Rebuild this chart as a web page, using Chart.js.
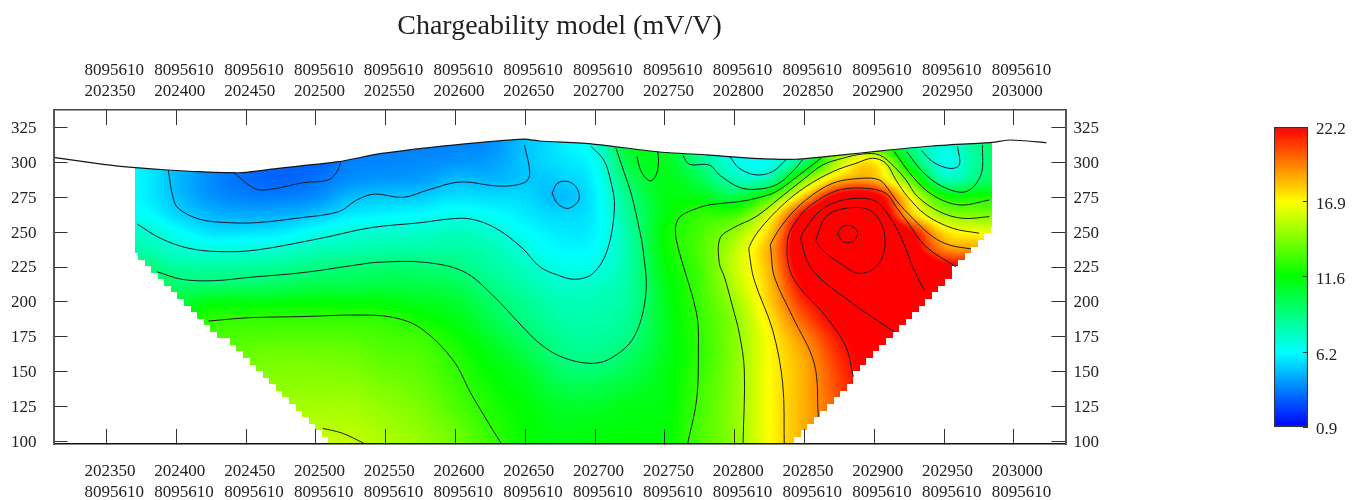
<!DOCTYPE html>
<html><head><meta charset="utf-8">
<script src="https://cdn.jsdelivr.net/npm/chart.js@4"></script>
<style>html,body{margin:0;padding:0;background:#fff}canvas{position:absolute;top:0}#main{left:0}#bar{left:1230px}</style>
</head><body>
<canvas id="main" width="1362" height="500"></canvas>
<canvas id="bar" width="132" height="500"></canvas>
<script>
const titleText = "Chargeability model (mV/V)";
const xTicks = [202350,202400,202450,202500,202550,202600,202650,202700,202750,202800,202850,202900,202950,203000];
const yTicks = [100,125,150,175,200,225,250,275,300,325];
const northing = "8095610";
const barTicks = [0.9,6.2,11.6,16.9,22.2];
const colorStops = [[0.9,0,0,255],[6.2,0,255,255],[11.6,0,255,0],[16.9,255,255,0],[22.2,255,0,0]];

const gridX = [202350,202375,202400,202425,202450,202475,202500,202525,202550,202575,202600,202625,202650,202675,202700,202725,202750,202775,202800,202825,202850,202875,202900,202925,202950,202975,203000];
const gridY = [325,312.5,300,287.5,275,262.5,250,237.5,225,212.5,200,187.5,175,162.5,150,137.5,125,112.5,100];
const gridColumns = [
[6,6,6,6,6,6.2,7,8,9.3,10.5,11.5,12,12.5,13,13.5,14,14.5,15,15.5],
[6,6,6,6,6,6.4,7.3,8,9.3,10.5,11.5,12,12.5,13,13.5,14,14.5,15,15.5],
[4.8,4.8,4.8,4.8,4.9,5.4,6.4,7.2,8.3,9.3,10.5,11.5,12,12.8,13.5,14,14.5,15,15.5],
[3.8,3.8,3.8,3.8,4,4.7,5.6,6.9,8.2,9.3,11.3,12.5,13,13.5,14,14.4,14.8,15.2,15.6],
[3.1,3.1,3.1,3.2,3.6,4.5,5.6,7,8.3,9.4,11.3,12.6,13.2,13.8,14.2,14.6,15,15.4,15.8],
[3,3,3,3,3.6,4.6,5.8,7.2,8.5,9.6,11.4,12.6,13.3,13.9,14.3,14.6,15,15.3,15.7],
[3,3,3,3.3,3.9,5,6.5,7.7,8.9,10,11.5,12.6,13.3,13.9,14.3,14.6,15,15.3,15.6],
[3.5,3.5,3.6,3.9,4.8,5.8,7,7.9,9.1,10,11.5,12.6,13.3,13.8,14.2,14.6,15,15.3,15.7],
[3.6,3.6,3.7,4.1,5.1,6,7.2,8.1,9.3,10.2,11.4,12.5,13,13.4,13.8,14.2,14.6,14.9,15.2],
[3.6,3.6,3.8,4.2,5.2,6.2,7.3,8.1,9.2,10.1,11,11.9,12.8,13.2,13.5,13.8,14.1,14.4,14.7],
[3.7,3.7,4,4.8,5.6,6.6,7.6,8.2,8.9,9.8,10.6,11.2,11.8,12.3,12.6,12.9,13.2,13.6,13.9],
[3.9,3.9,4.2,4.7,5.5,6.3,7.2,7.8,8.2,8.8,9.5,10,10.7,11.2,11.6,11.9,12.2,12.5,12.8],
[5,5,5,5,5.4,5.8,6.3,6.9,7.5,8,8.5,8.9,9.5,10.2,10.8,11.2,11.5,11.6,11.7],
[5.8,5.8,5.6,5.2,4.8,5.4,5.8,6.1,6.7,7.3,7.8,8.1,8.5,8.9,9.5,10.2,10.8,11.1,11.3],
[6.9,6.9,6.4,6.1,5.9,5.9,6,6.3,6.8,7.4,7.8,8,8.3,8.7,9.3,10.1,10.8,11.2,11.4],
[10.8,10.8,10.3,9.6,8.9,8.6,8.3,8.2,8.2,8.3,8.4,8.6,8.9,9.5,10,10.7,11.2,11.4,11.6],
[10.8,10.8,11,11.1,11.2,11.3,11.7,11.6,11.4,11.1,11,10.9,10.9,11,11.2,11.3,11.4,11.5,11.6],
[8.5,8.5,8.8,10,11.2,12.6,13,13.2,13,12.9,12.8,12.7,12.6,12.5,12.7,12.9,13,13.1,13.1],
[6.5,6.5,6.8,7.8,10.2,12.9,14.7,15.5,15.7,15.4,14.9,14.5,14.4,14.4,14.5,14.5,14.6,14.6,14.6],
[6.5,6.5,6.6,8.3,13,16.4,17.9,18.7,18.5,18.2,17.9,17.4,17,16.9,16.9,16.9,16.9,16.9,16.9],
[10,10,9.5,14.2,18.3,22.4,24.2,24.1,23.5,22.5,21.4,20.4,19.4,18.8,18.6,18.6,18.6,18.6,18.6],
[14,14,15.5,18.3,23,26.3,28,27,25.8,24.6,23.3,22.7,21.9,21.4,21,20.8,20.5,20.5,20.5],
[13,13,17.3,18.6,23,25,26.8,27,26,25.3,24.6,23.9,23,23,23,23,23,23,23],
[8.8,8.8,10.7,13.8,17.1,18.5,22.5,23.6,24.3,24.8,25,25,25,25,25,25,25,25,25],
[7,7,6.6,8,12.1,14.8,17.6,19.5,22.8,24,24,24,24,24,24,24,24,24,24],
[8.7,8.7,8.6,9.2,12,14.2,16.7,19,22,24,24,24,24,24,24,24,24,24,24],
[10.5,10.5,10.5,10.5,12.2,14.2,16.2,18,22,24,24,24,24,24,24,24,24,24,24]
];

const topography = [[202311.9,303.6],[202347.7,298.6],[202370.7,296.2],[202393.7,294.5],[202416.7,293.3],[202447.4,292.6],[202472.9,295.7],[202516.4,300.5],[202547,306.4],[202598.2,312.4],[202649.4,316.7],[202660.2,315.3],[202698.6,313.1],[202744.6,307.6],[202780.4,305.3],[202813.6,302.9],[202844.3,302.2],[202877.5,305.3],[202903.1,308.1],[202941.5,311.7],[202984.4,314.3],[202997.7,316],[203023.3,314.1]];
const lowerBoundary = [[202370.7,235.7],[202510,99],[202840,98],[202984.5,252]];

const contourA = [[202441,292.6],[202456.4,281.1],[202467.8,280.7],[202490.8,285.4],[202508.7,287.3],[202515.1,293.3],[202517.7,299.8]];
const contourB = [[202394.2,294.5],[202397.5,275.4],[202401.4,267],[202416.7,259.2],[202437.1,256.8],[202457.6,256.8],[202485.7,259.9],[202516.4,264.7],[202529.2,273],[202542,277.3],[202562.4,274.9],[202580.3,280.2],[202603.4,285.9],[202631.5,283],[202649.4,285.4],[202653.2,292.1],[202649.4,312.4]];
const ringB = [[202669.2,277.8],[202673,285],[202680.7,286.2],[202687,281.4],[202688.3,273],[202680.7,267],[202673,270.6],[202669.2,277.8]];
const contourC = [[202372,255.8],[202388.6,245.6],[202409,238.4],[202432,236],[202457.6,237.2],[202503.6,245.6],[202539.4,253.2],[202575.2,256.8],[202595.7,259.4],[202611,259.4],[202629,252.7],[202648,238.4],[202660.2,225.3],[202673,219.3],[202685.8,216.2],[202698.6,220.5],[202708.8,237.2],[202713.9,268.2],[202711.3,286.2],[202706.2,301.7],[202697.3,311.2]];
const contourD = [[202386,221.7],[202403.9,216.2],[202426.9,215.2],[202452.5,217.6],[202490.8,221],[202529.2,226.5],[202544.5,228.4],[202577.8,228.4],[202605.9,221.7],[202626.4,205],[202646.8,183.5],[202660.2,170.3],[202675.5,160.8],[202696,156],[202711.3,159.6],[202728,175.1],[202736.4,206.2],[202734.4,237.2],[202731.8,251.6],[202725.8,277.8],[202721,292.2],[202715,310]];
const contourE = [[202423,186.3],[202452.5,188.7],[202490.8,189.5],[202529.2,190.6],[202554.8,189],[202575.2,181.1],[202598.2,158.4],[202611,134.5],[202623.8,113],[202632.8,98.5]];
const contourF = [[202504.9,109.4],[202519,105.9],[202534.8,98.5]];
const island = [[202730,304.1],[202731.7,296.9],[202735.3,289.8],[202740.1,286.7],[202744.2,292.2],[202745.4,301.7],[202744.9,307.7]];
const contourJ = [[202762.8,305],[202767.5,298.6],[202781.9,298.1],[202789,291],[202803.3,282.1],[202815.3,280.7],[202829.6,283.8],[202841.5,293.4],[202848.7,302]];
const contourK = [[202796.7,304],[202803.3,295.7],[202815.3,291],[202827.2,293.4],[202836.8,302]];
const contourL = [[202766.3,98.5],[202772.7,129.7],[202774,165.6],[202772.7,191.8],[202759.9,237.2],[202757.5,251.6],[202760.4,260.6],[202770,265.9],[202781.9,269.5],[202803.4,271.9],[202815.3,274.2],[202829.6,279],[202846.3,291],[202861.8,302.9]];
const contourM = [[202806,98.5],[202806.9,151.2],[202803.3,177.4],[202798.5,196.5],[202792.6,218],[202789,227.6],[202789.5,245.6],[202798.6,252.8],[202815.3,261.1],[202832,274.2],[202848.7,287.4],[202863,298.1],[202877.3,302.9],[202891.7,306],[202903.6,305.3],[202914.3,296.9],[202922.7,287.4],[202931,275.4],[202946.6,264.7],[202963.3,259.9],[202982.4,261.1]];
const contourN = [[202835.5,98.5],[202834.4,141.6],[202827.2,179.8],[202814,215.6],[202810.5,234.7],[202810.5,239.6],[202817.7,251.6],[202834.4,269.5],[202851,282.6],[202870.2,293.3],[202886.9,299.3],[202898.8,302.9],[202908.4,299.3],[202915.5,287.4],[202923.9,275.4],[202937,262.3],[202956.1,252.8],[202975.2,249.2]];
const contourO = [[202859.9,117.7],[202857,155.9],[202841.5,189.4],[202828.4,218],[202826,237.1],[202826,242],[202836.8,258.7],[202851,273],[202870.2,285],[202891.7,288.6],[202903.6,287.4],[202909.6,281.4],[202915.5,273],[202927.5,259.9],[202941.8,246.8],[202953.7,240.8],[202969.2,238]];
const contourP = [[202885,146.4],[202879.7,167.9],[202865.4,189.4],[202841.5,218],[202837.9,244.3],[202846.3,261.1],[202858.2,271.9],[202875,280.2],[202894,281.4],[202908.4,277.8],[202915.5,268.3],[202922.7,258.7],[202937,239.6],[202958.5,225.2]];
const contourQ = [[202914.3,178.6],[202884.5,198.9],[202855.8,222.8],[202847.5,244.3],[202848.7,249.2],[202858.2,262.3],[202870.2,270.7],[202886.9,274.2],[202901.2,271.9],[202913.2,257.5],[202920,244.4],[202928.6,222.8],[202935.8,208.5]];
const ringR = [[202858,244],[202865.4,261.1],[202879.7,267.1],[202896.4,265.9],[202906,254],[202907.2,237],[202901.2,225.2],[202889.3,220.4],[202877.3,226.4],[202863,237.1],[202858,244]];
const ringS = [[202873.8,249.2],[202877.3,254],[202884.5,254],[202888.1,249.2],[202884.5,243.2],[202877.3,243.2],[202873.8,249.2]];
const contourT = [[202933.9,308.4],[202941.8,300.5],[202953.7,295.7],[202960.9,298.1],[202959.7,311.3]];
const contourU = [[202923.2,307.7],[202934.6,293.3],[202949,282.6],[202965.7,279],[202976.4,291],[202977.6,312.5]];
const contourV = [[202914.3,307.7],[202927.5,289.8],[202941.8,276.6],[202960.9,269.5],[202982.4,273]];
const contours = [contourA,contourB,ringB,contourC,contourD,contourE,contourF,island,contourJ,contourK,contourL,contourM,contourN,contourO,contourP,contourQ,ringR,ringS,contourT,contourU,contourV];

function toXY(a){return a.map(p=>({x:p[0],y:p[1]}));}
function colorOf(v){
  const s=colorStops;
  if(v<=s[0][0])return s[0].slice(1);
  for(let i=1;i<s.length;i++){ if(v<=s[i][0]){const t=(v-s[i-1][0])/(s[i][0]-s[i-1][0]);
    return [0,1,2].map(k=>s[i-1][k+1]+(s[i][k+1]-s[i-1][k+1])*t);} }
  return s[s.length-1].slice(1);
}
function cr(a,b,c,d,t){return b+0.5*t*(c-a+t*(2*a-5*b+4*c-d+t*(3*(b-c)+d-a)));}
function valueAt(x,y){
  const fx=(x-gridX[0])/25, fy=(gridY[0]-y)/12.5;
  const i=Math.max(0,Math.min(gridX.length-2,Math.floor(fx))), j=Math.max(0,Math.min(gridY.length-2,Math.floor(fy)));
  const tx=fx-i,ty=fy-j;
  const col=c=>gridColumns[Math.max(0,Math.min(gridX.length-1,c))];
  const cell=(c,r)=>col(c)[Math.max(0,Math.min(gridY.length-1,r))];
  const rows=[-1,0,1,2].map(dr=>cr(cell(i-1,j+dr),cell(i,j+dr),cell(i+1,j+dr),cell(i+2,j+dr),tx));
  return cr(rows[0],rows[1],rows[2],rows[3],ty);
}
function topAt(x){
  const t=topography;
  for(let i=1;i<t.length;i++){ if(x<=t[i][0]){return t[i-1][1]+(t[i][1]-t[i-1][1])*(x-t[i-1][0])/(t[i][0]-t[i-1][0]);} }
  return t[t.length-1][1];
}
function lowAt(x){
  const b=lowerBoundary;
  for(let i=1;i<b.length;i++){ if(x<=b[i][0]){return b[i-1][1]+(b[i][1]-b[i-1][1])*(x-b[i-1][0])/(b[i][0]-b[i-1][0]);} }
  return b[b.length-1][1];
}
const heatPlugin={id:'heat',beforeDatasetsDraw(chart){
  const xs=chart.scales.x, ys=chart.scales.y, a=chart.chartArea, ctx=chart.ctx;
  const L=Math.round(a.left),T=Math.round(a.top),W=Math.round(a.width),H=Math.round(a.height);
  const off=document.createElement('canvas');off.width=W;off.height=H;
  const oc=off.getContext('2d'),img=oc.createImageData(W,H),d=img.data;
  const q=4.7, xMin=lowerBoundary[0][0], xMax=lowerBoundary[3][0];
  for(let px=0;px<W;px++){
    const x=xs.getValueForPixel(L+px+0.5);
    if(x<xMin||x>xMax)continue;
    const qx=Math.floor(x/q)*q+q/2, lo=lowAt(Math.min(xMax,Math.max(xMin,qx))), top=topAt(x);
    for(let py=0;py<H;py++){
      const y=ys.getValueForPixel(T+py+0.5);
      if(y>top)continue;
      const qy=Math.floor(y/q)*q+q/2;
      if(qy<lo)continue;
      const c=colorOf(valueAt(x,y)),k=(py*W+px)*4;
      d[k]=c[0];d[k+1]=c[1];d[k+2]=c[2];d[k+3]=255;
    }
  }
  oc.putImageData(img,0,0);
  ctx.drawImage(off,L,T);
}};
const serif="'Liberation Serif','Times New Roman',serif";
const tickFont={family:serif,size:17,lineHeight:1.25};
const ink='#222';
function xAxis(pos,cb,h){return {type:'linear',position:pos,axis:'x',min:202312,max:203037,
  afterBuildTicks(s){s.ticks=xTicks.map(v=>({value:v}));},
  afterFit(s){s.height=h;},
  border:{color:pos==='bottom'?'#111':'#444',width:1.5,z:2},
  grid:{drawOnChartArea:false,drawTicks:true,tickLength:-15,tickColor:'#333',z:1,lineWidth:1},
  ticks:{maxRotation:0,autoSkip:false,callback:cb,font:tickFont,color:ink,align:'start',labelOffset:-22,padding:pos==='bottom'?32:23}};}
function yAxis(pos,w){return {type:'linear',position:pos,axis:'y',min:98.2,max:337.5,
  afterBuildTicks(s){s.ticks=yTicks.map(v=>({value:v}));},
  afterFit(s){s.width=w;},
  border:{color:'#555',width:2,z:2},
  grid:{drawOnChartArea:false,drawTicks:true,tickLength:-14,tickColor:'#333',z:1,lineWidth:1},
  ticks:{autoSkip:false,font:tickFont,color:ink,padding:pos==='left'?31:22,labelOffset:1,callback:v=>String(v)}};}
const lineSets=contours.map(c=>({type:'scatter',showLine:true,data:toXY(c),borderColor:'#1c1c28',borderWidth:1,pointRadius:0,tension:0.35,fill:false,parsing:false}));
lineSets.push({type:'scatter',showLine:true,data:toXY(topography),borderColor:'#15151c',borderWidth:1.2,pointRadius:0,tension:0.2,fill:false,parsing:false});
new Chart(document.getElementById('main'),{
  type:'scatter',
  data:{datasets:lineSets},
  plugins:[heatPlugin],
  options:{responsive:false,animation:false,devicePixelRatio:1,
    layout:{padding:0},
    plugins:{legend:{display:false},tooltip:{enabled:false},
      title:{display:true,text:titleText,fullSize:false,color:'#222',font:{family:serif,size:28,weight:'normal',lineHeight:1.2},padding:{top:10,bottom:0}}},
    scales:{
      x:xAxis('bottom',v=>[String(v),northing],56),
      x2:xAxis('top',v=>[northing,String(v)],66.4),
      y:yAxis('left',53.5),
      y2:yAxis('right',296.5)
    }}
});
new Chart(document.getElementById('bar'),{
  type:'bar',
  data:{labels:['mV/V'],datasets:[{data:[[barTicks[0],barTicks[barTicks.length-1]]],barPercentage:1,categoryPercentage:1,
    borderWidth:1.5,borderColor:'#333',borderSkipped:false,
    backgroundColor(c){const a=c.chart.chartArea;if(!a)return '#000';
      const g=c.chart.ctx.createLinearGradient(0,a.bottom,0,a.top);
      const lo=colorStops[0][0],hi=colorStops[colorStops.length-1][0];
      colorStops.forEach(s=>g.addColorStop((s[0]-lo)/(hi-lo),`rgb(${s[1]},${s[2]},${s[3]})`));return g;}}]},
  options:{responsive:false,animation:false,devicePixelRatio:1,
    layout:{padding:{left:44,top:127,bottom:73,right:0}},
    plugins:{legend:{display:false},tooltip:{enabled:false}},
    scales:{
      x:{display:false},
      y:{position:'right',min:0.9,max:22.2,afterBuildTicks(s){s.ticks=barTicks.map(v=>({value:v}));},
        afterFit(s){s.width=54;},
        border:{display:false},
        grid:{drawOnChartArea:false,tickLength:-5,tickColor:'#333',z:1},
        ticks:{autoSkip:false,font:{family:serif,size:17,lineHeight:1.2},color:ink,padding:13,labelOffset:3,callback:v=>String(v)}}
    }}
});
</script>
</body></html>
